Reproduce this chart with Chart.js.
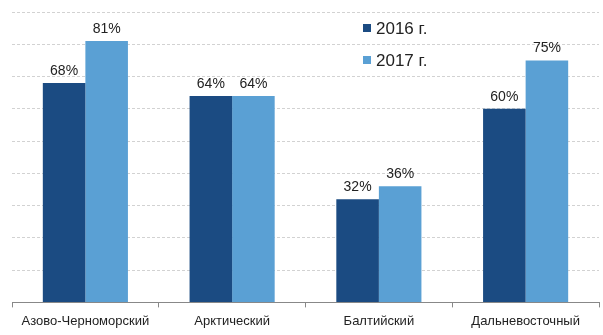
<!DOCTYPE html>
<html>
<head>
<meta charset="utf-8">
<script src="https://cdn.jsdelivr.net/npm/chart.js@4.4.1/dist/chart.umd.min.js"></script>
<style>
  html, body { margin: 0; padding: 0; background: #fff; }
  #wrap { width: 603px; height: 335px; }
</style>
</head>
<body>
<div id="wrap"><canvas id="c" width="603" height="335"></canvas></div>
<script>
const categories = ['Азово-Черноморский', 'Арктический', 'Балтийский', 'Дальневосточный'];
const seriesNames = ['2016 г.', '2017 г.'];
const values2016 = [68, 64, 32, 60];
const values2017 = [81, 64, 36, 75];
const colors = ['#1b4b82', '#5aa0d4'];

const FONT = '"Liberation Sans", Arial, sans-serif';

// Percent labels above each bar
const valueLabels = {
  id: 'valueLabels',
  afterDatasetsDraw(chart) {
    const ctx = chart.ctx;
    ctx.save();
    ctx.font = '14px ' + FONT;
    ctx.fillStyle = '#222';
    ctx.textAlign = 'center';
    ctx.textBaseline = 'bottom';
    chart.data.datasets.forEach((ds, i) => {
      chart.getDatasetMeta(i).data.forEach((bar, j) => {
        ctx.fillText(ds.data[j] + '%', bar.x, bar.y - 5);
      });
    });
    ctx.restore();
  }
};

// Vertical legend placed inside the plot
const insideLegend = {
  id: 'insideLegend',
  afterDraw(chart) {
    const ctx = chart.ctx;
    ctx.save();
    ctx.font = '17px ' + FONT;
    ctx.textBaseline = 'middle';
    chart.data.datasets.forEach((ds, i) => {
      const y = 28 + i * 32;
      ctx.fillStyle = ds.backgroundColor;
      ctx.fillRect(363, y - 4, 8, 8);
      ctx.fillStyle = '#222';
      ctx.fillText(ds.label, 376, y + 1);
    });
    ctx.restore();
  }
};

new Chart(document.getElementById('c'), {
  type: 'bar',
  data: {
    labels: categories,
    datasets: [
      { label: seriesNames[0], data: values2016, backgroundColor: colors[0] },
      { label: seriesNames[1], data: values2017, backgroundColor: colors[1] }
    ]
  },
  options: {
    responsive: false,
    animation: false,
    devicePixelRatio: 1,
    layout: { padding: { left: 12, right: 4, top: 12, bottom: 0 } },
    plugins: { legend: { display: false }, tooltip: { enabled: false } },
    datasets: { bar: { categoryPercentage: 0.58, barPercentage: 1.0 } },
    scales: {
      x: {
        grid: { offset: true, drawOnChartArea: false, drawTicks: true, tickLength: 5, color: '#888' },
        border: { display: true, color: '#888', width: 1 },
        ticks: { color: '#222', font: { family: FONT, size: 13 }, padding: 6, maxRotation: 0 }
      },
      y: {
        min: 0, max: 90,
        ticks: { display: false, stepSize: 10 },
        border: { display: false, dash: [3, 2] },
        grid: { color: '#d2d2d2', drawTicks: false }
      }
    }
  },
  plugins: [valueLabels, insideLegend]
});
</script>
</body>
</html>
